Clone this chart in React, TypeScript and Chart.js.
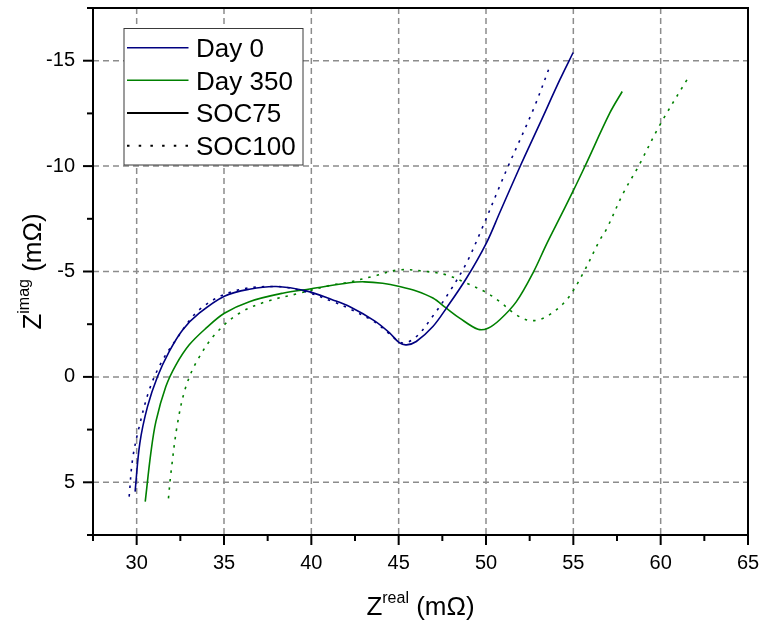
import React, { useEffect, useRef } from 'react';
import { Chart, registerables } from 'chart.js';

Chart.register(...registerables);

// ---- data (Z real / Z imag, mΩ) ----
const day0Soc75X = [29.91, 30.18, 30.62, 31.19, 31.86, 32.63, 33.58, 35.02, 36.45, 37.98, 39.70, 41.23, 42.18, 43.62, 44.48, 45.05, 45.45, 46.01, 46.96, 47.73, 48.88, 50.02, 50.79, 51.95, 53.10, 54.23, 54.99];
const day0Soc75Y = [5.44, 3.15, 1.41, -0.01, -1.20, -2.23, -3.02, -3.83, -4.16, -4.29, -4.08, -3.65, -3.34, -2.66, -2.09, -1.61, -1.52, -1.68, -2.39, -3.26, -4.68, -6.35, -7.80, -9.98, -12.05, -14.10, -15.39];

const day0Soc100X = [29.57, 29.76, 30.10, 30.72, 31.39, 32.25, 33.58, 35.49, 37.98, 39.70, 41.23, 42.09, 43.62, 44.48, 45.22, 46.01, 46.96, 47.92, 48.88, 49.74, 50.79, 51.26, 52.70, 53.69];
const day0Soc100Y = [5.68, 3.94, 2.52, 0.62, -0.65, -1.76, -3.18, -4.05, -4.29, -4.03, -3.57, -3.27, -2.61, -2.04, -1.61, -1.91, -2.89, -4.05, -5.40, -6.98, -9.06, -9.98, -12.67, -14.81];

const day350Soc75X = [30.49, 30.81, 31.10, 31.67, 32.25, 33.01, 33.97, 35.02, 36.45, 38.36, 39.99, 42.18, 43.04, 44.08, 45.05, 46.01, 46.96, 47.73, 48.49, 49.54, 50.11, 50.79, 51.74, 52.70, 53.46, 54.04, 54.99, 55.66, 57.09, 57.80];
const day350Soc75Y = [5.92, 3.62, 2.12, 0.46, -0.57, -1.52, -2.31, -3.02, -3.57, -3.97, -4.18, -4.47, -4.51, -4.44, -4.29, -4.08, -3.74, -3.26, -2.79, -2.26, -2.31, -2.71, -3.57, -4.95, -6.29, -7.25, -8.82, -9.98, -12.52, -13.54];

const day350Soc100X = [31.82, 31.96, 32.34, 32.82, 33.49, 34.54, 35.88, 37.41, 39.32, 41.23, 42.09, 43.62, 45.05, 46.58, 47.73, 48.88, 50.02, 50.79, 51.74, 52.60, 53.46, 54.61, 55.56, 56.52, 56.90, 57.86, 58.72, 59.96, 61.58];
const day350Soc100Y = [5.76, 4.57, 2.20, 0.46, -0.81, -2.07, -3.02, -3.57, -3.97, -4.37, -4.48, -4.79, -5.08, -5.00, -4.84, -4.45, -4.00, -3.57, -2.94, -2.67, -2.86, -3.65, -4.92, -6.50, -7.01, -8.72, -9.98, -11.96, -14.20];

const xMajorTicks = [30, 35, 40, 45, 50, 55, 60, 65];
const xMinorTicks = [27.5, 32.5, 37.5, 42.5, 47.5, 52.5, 57.5, 62.5];
const yMajorTicks = [-15, -10, -5, 0, 5];
const yMinorTicks = [-17.5, -12.5, -7.5, -2.5, 2.5, 7.5];

const legendLabels = ['Day 0', 'Day 350', 'SOC75', 'SOC100'];
const legendColors = ['#000080', '#008000', '#000000', '#000000'];
const legendDotted = [false, false, false, true];

const FONT = '"Liberation Sans", Arial, sans-serif';
const BLUE = '#000080';
const GREEN = '#008000';
const DOT = [2.5, 6];

const zip = (xs: number[], ys: number[]) => xs.map((x, i) => ({ x, y: ys[i] }));

function drawTitle(ctx: any, cx: number, baseline: number, main: string, sup: string, rest: string) {
  ctx.font = `26px ${FONT}`;
  const w1 = ctx.measureText(main).width;
  const w3 = ctx.measureText(rest).width;
  ctx.font = `16px ${FONT}`;
  const w2 = ctx.measureText(sup).width;
  let x = cx - (w1 + w2 + w3) / 2;
  ctx.textAlign = 'left';
  ctx.textBaseline = 'alphabetic';
  ctx.fillStyle = '#000';
  ctx.font = `26px ${FONT}`;
  ctx.fillText(main, x, baseline);
  x += w1;
  ctx.font = `16px ${FONT}`;
  ctx.fillText(sup, x, baseline - 12);
  x += w2;
  ctx.font = `26px ${FONT}`;
  ctx.fillText(rest, x, baseline);
}

const decorPlugin = {
  id: 'decor',
  beforeDatasetsDraw(chart: any) {
    const { ctx, chartArea: a, scales } = chart;
    const xs = scales.x;
    const ys = scales.y;
    ctx.save();
    ctx.strokeStyle = '#8c8c8c';
    ctx.lineWidth = 1.5;
    ctx.setLineDash([6, 4]);
    xMajorTicks.forEach((v) => {
      const px = xs.getPixelForValue(v);
      if (px <= a.left + 1 || px >= a.right - 1) return;
      ctx.beginPath();
      ctx.moveTo(px, a.top);
      ctx.lineTo(px, a.bottom);
      ctx.stroke();
    });
    yMajorTicks.forEach((v) => {
      const py = ys.getPixelForValue(v);
      if (py <= a.top + 1 || py >= a.bottom - 1) return;
      ctx.beginPath();
      ctx.moveTo(a.left, py);
      ctx.lineTo(a.right, py);
      ctx.stroke();
    });
    ctx.restore();
  },
  afterDraw(chart: any) {
    const { ctx, chartArea: a, scales } = chart;
    const xs = scales.x;
    const ys = scales.y;
    ctx.save();
    ctx.setLineDash([]);
    ctx.strokeStyle = '#000';
    ctx.lineWidth = 2;
    ctx.strokeRect(a.left, a.top, a.right - a.left, a.bottom - a.top);
    const tick = (x1: number, y1: number, x2: number, y2: number) => {
      ctx.beginPath();
      ctx.moveTo(x1, y1);
      ctx.lineTo(x2, y2);
      ctx.stroke();
    };
    xMajorTicks.forEach((v) => { const p = xs.getPixelForValue(v); tick(p, a.bottom, p, a.bottom + 10); });
    xMinorTicks.forEach((v) => { const p = xs.getPixelForValue(v); tick(p, a.bottom, p, a.bottom + 6); });
    yMajorTicks.forEach((v) => { const p = ys.getPixelForValue(v); tick(a.left, p, a.left - 10, p); });
    yMinorTicks.forEach((v) => { const p = ys.getPixelForValue(v); tick(a.left, p, a.left - 6, p); });

    // axis titles
    drawTitle(ctx, (a.left + a.right) / 2, 615, 'Z', 'real', ' (mΩ)');
    ctx.save();
    ctx.translate(41, (a.top + a.bottom) / 2);
    ctx.rotate(-Math.PI / 2);
    drawTitle(ctx, 0, 0, 'Z', 'imag', ' (mΩ)');
    ctx.restore();

    // legend
    const bx = 124, by = 28.5, bw = 179, bh = 136.5;
    ctx.fillStyle = '#fff';
    ctx.fillRect(bx, by, bw, bh);
    ctx.strokeStyle = '#3a3a3a';
    ctx.lineWidth = 1;
    ctx.strokeRect(bx, by, bw, bh);
    const rowY = [47.7, 80.3, 113, 145.7];
    legendLabels.forEach((lab, i) => {
      const y = rowY[i];
      ctx.strokeStyle = legendColors[i];
      ctx.lineWidth = i >= 2 ? 2 : 1.5;
      ctx.setLineDash(legendDotted[i] ? [2.5, 9.2] : []);
      ctx.beginPath();
      ctx.moveTo(127, y);
      ctx.lineTo(188.5, y);
      ctx.stroke();
      ctx.setLineDash([]);
      ctx.fillStyle = '#000';
      ctx.font = `26px ${FONT}`;
      ctx.textAlign = 'left';
      ctx.textBaseline = 'alphabetic';
      ctx.fillText(lab, 196, y + 9.4);
    });
    ctx.restore();
  },
};

export default function App() {
  const canvasRef = useRef<HTMLCanvasElement | null>(null);

  useEffect(() => {
    const canvas = canvasRef.current;
    if (!canvas) return;
    const line = (data: any[], color: string, dotted: boolean) => ({
      data,
      showLine: true,
      borderColor: color,
      backgroundColor: color,
      borderWidth: 1.6,
      borderDash: dotted ? DOT : [],
      pointRadius: 0,
      pointHoverRadius: 0,
      tension: 0.35,
      fill: false,
    });
    const zeroPad = (s: any) => {
      s.paddingLeft = 0;
      s.paddingRight = 0;
      s.paddingTop = 0;
      s.paddingBottom = 0;
    };
    const chart = new Chart(canvas, {
      type: 'scatter',
      data: {
        datasets: [
          line(zip(day0Soc75X, day0Soc75Y), BLUE, false),
          line(zip(day0Soc100X, day0Soc100Y), BLUE, true),
          line(zip(day350Soc75X, day350Soc75Y), GREEN, false),
          line(zip(day350Soc100X, day350Soc100Y), GREEN, true),
        ],
      },
      options: {
        animation: false,
        responsive: false,
        devicePixelRatio: 1,
        events: [],
        layout: { padding: { left: 0, top: 8, right: 15, bottom: 0 } },
        plugins: { legend: { display: false }, tooltip: { enabled: false }, title: { display: false } },
        scales: {
          x: {
            type: 'linear',
            min: 27.5,
            max: 65,
            afterBuildTicks: (s: any) => { s.ticks = xMajorTicks.map((v) => ({ value: v })); },
            afterFit: (s: any) => { s.height = 89; zeroPad(s); },
            grid: { display: false, drawTicks: false },
            border: { display: false },
            ticks: {
              autoSkip: false,
              maxRotation: 0,
              minRotation: 0,
              padding: 16,
              color: '#000',
              font: { family: FONT, size: 20 },
              callback: (v: any) => String(v),
            },
          },
          y: {
            type: 'linear',
            reverse: true,
            min: -17.5,
            max: 7.5,
            afterBuildTicks: (s: any) => { s.ticks = yMajorTicks.map((v) => ({ value: v })); },
            afterFit: (s: any) => { s.width = 93; zeroPad(s); },
            grid: { display: false, drawTicks: false },
            border: { display: false },
            ticks: {
              autoSkip: false,
              padding: 18,
              color: '#000',
              font: { family: FONT, size: 20 },
              callback: (v: any) => String(v),
            },
          },
        },
      },
      plugins: [decorPlugin],
    });
    return () => chart.destroy();
  }, []);

  return (
    <div style={{ position: 'fixed', left: 0, top: 0, width: 763, height: 624, background: '#fff' }}>
      <canvas ref={canvasRef} width={763} height={624} style={{ display: 'block', width: 763, height: 624 }} />
    </div>
  );
}
